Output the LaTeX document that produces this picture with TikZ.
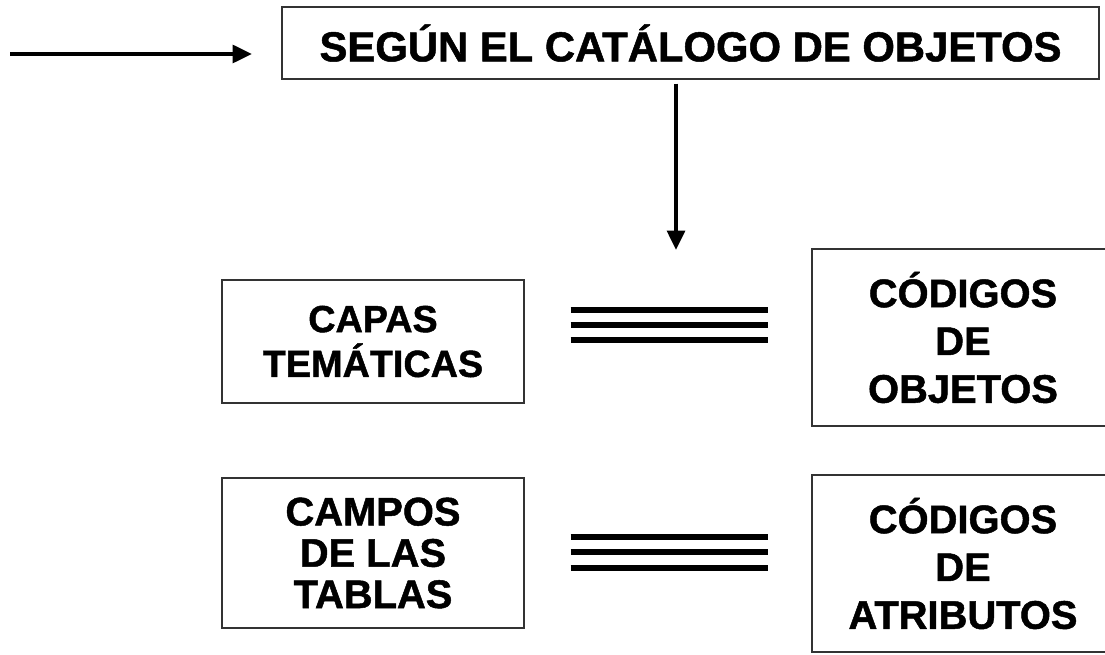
\documentclass[tikz,border=0pt]{standalone}
\usepackage{fontspec}
\setmainfont{Liberation Sans}[BoldFeatures={FakeBold=1.2}]
\usepackage{tikz}
\usetikzlibrary{arrows.meta}
\tikzset{caja/.style={draw=black!80,line width=0.8pt,align=center,inner sep=0pt,font=\bfseries\fontsize{22.7}{27.2}\selectfont},
  flecha/.style={-{Triangle[length=11pt,width=10pt]},line width=2.3pt},
  igual/.style={line width=3.2pt}}

\begin{document}
\begin{tikzpicture}[line cap=butt,line join=miter,>=Triangle,x=0.02cm,y=-0.02cm]
            \useasboundingbox (0,0) rectangle (1105,655);
            \clip (0,0) rectangle (1105,655);
            % cajas
            \node[caja,minimum width=16.34cm,minimum height=1.44cm,font=\bfseries\fontsize{23.8}{28}\selectfont] (catalogo) at (690.5,43) {SEGÚN EL CATÁLOGO DE OBJETOS};
            \node[caja,minimum width=6.04cm,minimum height=2.46cm,font=\bfseries\fontsize{21.5}{25.5}\selectfont] (capas) at (373,341.5) {CAPAS\\TEMÁTICAS};
            \node[caja,minimum width=6.04cm,minimum height=3.54cm] (codobj) at (963,337.5) {CÓDIGOS\\DE\\OBJETOS};
            \node[caja,minimum width=6.04cm,minimum height=3cm,font=\bfseries\fontsize{22.7}{23.5}\selectfont] (campos) at (373,553) {CAMPOS\\DE LAS\\TABLAS};
            \node[caja,minimum width=6.04cm,minimum height=3.54cm] (codatr) at (963,563.5) {CÓDIGOS\\DE\\ATRIBUTOS};
            % flechas
            \coordinate (inicio) at (10,54);
            \coordinate (punta) at (252,54);
            \coordinate (bajada) at (676,250);
            \draw[flecha] (inicio) -- (punta);
            \draw[flecha] ([yshift=-0.08cm]catalogo.south -| bajada) -- (bajada);
            % signos de igual
            \foreach \y in {310,325,340}
              \draw[igual] (capas.east |- 0,\y) ++(0.92cm,0) -- ++(3.94cm,0);
            \foreach \y in {537,552,568}
              \draw[igual] (campos.east |- 0,\y) ++(0.92cm,0) -- ++(3.94cm,0);
\end{tikzpicture}
\end{document}
